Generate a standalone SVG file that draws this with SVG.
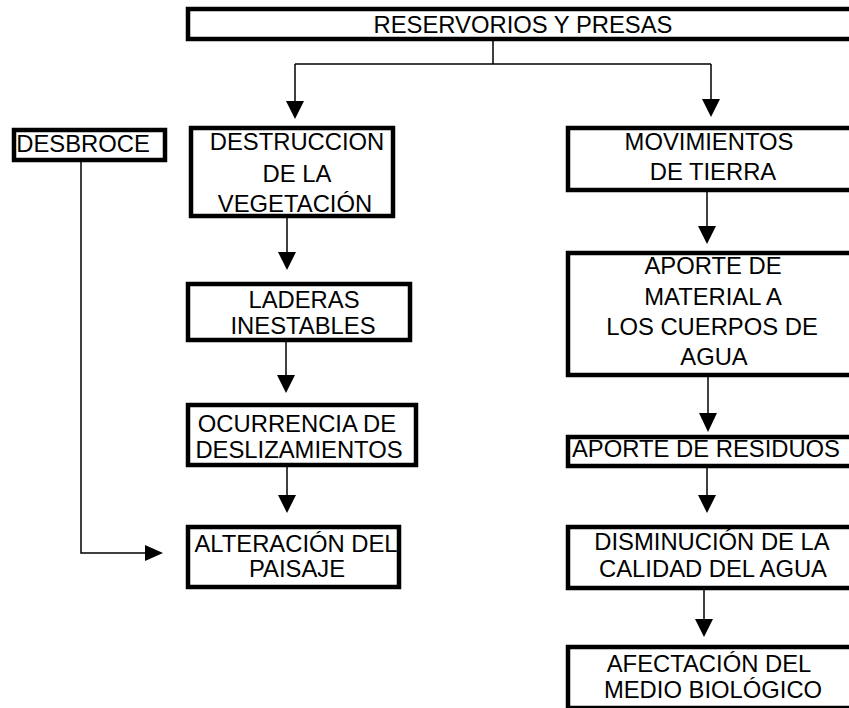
<svg xmlns="http://www.w3.org/2000/svg" width="849" height="708" viewBox="0 0 849 708">
<style>
.box{fill:#fff;stroke:#000;stroke-width:4.5}
.t{font-family:"Liberation Sans",Arial,sans-serif;font-size:23.8px;fill:#000;text-anchor:middle}
.c{fill:none;stroke:#000;stroke-width:1.5}
.h{fill:#000;stroke:none}
</style>
<rect width="849" height="708" fill="#fff"/>
<g id="reservorios"><rect class="box" x="188" y="9" width="670" height="30"/><text class="t" x="523" y="33">RESERVORIOS Y PRESAS</text></g>
<g id="desbroce"><rect class="box" x="14" y="130" width="151" height="30"/><text class="t" x="83" y="152">DESBROCE</text></g>
<g id="destruccion"><rect class="box" x="191" y="128" width="202" height="88"/><text class="t" x="297" y="150">DESTRUCCION</text><text class="t" x="297" y="182">DE LA</text><text class="t" x="295" y="212">VEGETACIÓN</text></g>
<g id="laderas"><rect class="box" x="188" y="284" width="222" height="56"/><text class="t" x="304" y="308">LADERAS</text><text class="t" x="303" y="334">INESTABLES</text></g>
<g id="ocurrencia"><rect class="box" x="188" y="405" width="228" height="60"/><text class="t" x="297" y="432">OCURRENCIA DE</text><text class="t" x="299" y="458">DESLIZAMIENTOS</text></g>
<g id="alteracion"><rect class="box" x="188" y="527" width="211" height="60"/><text class="t" x="296" y="552">ALTERACIÓN DEL</text><text class="t" x="297" y="577">PAISAJE</text></g>
<g id="movimientos"><rect class="box" x="568" y="128" width="286" height="62"/><text class="t" x="709" y="150">MOVIMIENTOS</text><text class="t" x="713" y="180">DE TIERRA</text></g>
<g id="aporte-material"><rect class="box" x="568" y="253" width="286" height="122"/><text class="t" x="713" y="274">APORTE DE</text><text class="t" x="713" y="305">MATERIAL A</text><text class="t" x="712" y="335">LOS CUERPOS DE</text><text class="t" x="714" y="365">AGUA</text></g>
<g id="aporte-residuos"><rect class="box" x="568" y="437" width="286" height="29"/><text class="t" x="706" y="457">APORTE DE RESIDUOS</text></g>
<g id="disminucion"><rect class="box" x="568" y="527" width="286" height="61"/><text class="t" x="712" y="550">DISMINUCIÓN DE LA</text><text class="t" x="713" y="577">CALIDAD DEL AGUA</text></g>
<g id="afectacion"><rect class="box" x="568" y="647" width="286" height="61"/><text class="t" x="709" y="672">AFECTACIÓN DEL</text><text class="t" x="713" y="698">MEDIO BIOLÓGICO</text></g>
<g id="connectors">
<path class="c" d="M493,41V64M295,64H711M295,64V102M711,64V100"/>
<polygon class="h" points="286,101 304,101 295,119"/>
<polygon class="h" points="702,99 720,99 711,117"/>
<path class="c" d="M81,162V553H146"/>
<polygon class="h" points="145,545 145,561 163,553"/>
<path class="c" d="M287,218V253"/>
<polygon class="h" points="278,252 296,252 287,270"/>
<path class="c" d="M286,342V376"/>
<polygon class="h" points="277,375 295,375 286,393"/>
<path class="c" d="M287,467V496"/>
<polygon class="h" points="278,495 296,495 287,513"/>
<path class="c" d="M707,192V227"/>
<polygon class="h" points="698,226 716,226 707,244"/>
<path class="c" d="M708,377V414"/>
<polygon class="h" points="699,413 717,413 708,432"/>
<path class="c" d="M707,468V496"/>
<polygon class="h" points="698,495 716,495 707,513"/>
<path class="c" d="M704,590V620"/>
<polygon class="h" points="695,619 713,619 704,637"/>
</g>
</svg>
